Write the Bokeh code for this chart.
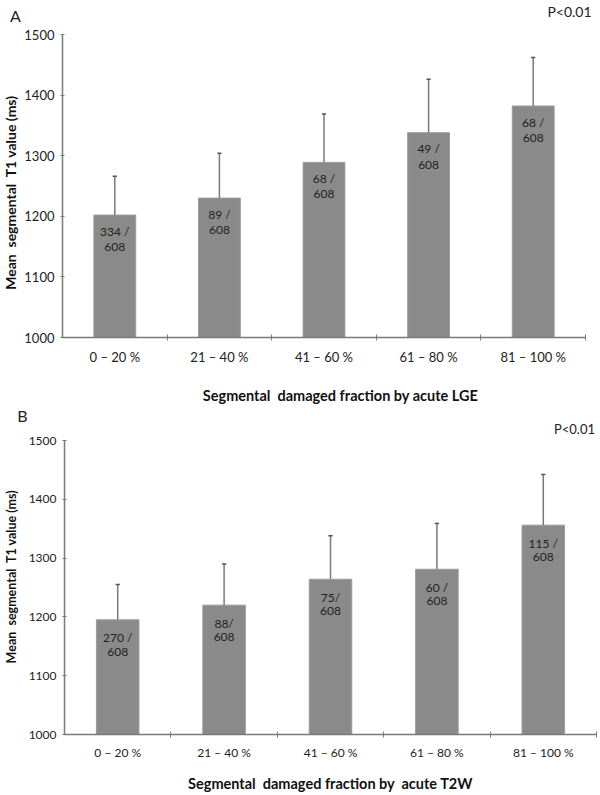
import math
from bokeh.plotting import figure
from bokeh.models import Label, FixedTicker, Range1d
from bokeh.layouts import column
from bokeh.embed import file_html
from bokeh.resources import INLINE

# ---- data ----
categories = ["0 – 20 %", "21 – 40 %", "41 – 60 %", "61 – 80 %", "81 – 100 %"]

mean_A = [1202, 1230, 1289, 1338, 1382]
sd_A = [64, 74, 80, 88, 80]
count_A = ["334 /", "89 /", "68 /", "49 /", "68 /"]
total_A = ["608", "608", "608", "608", "608"]

mean_B = [1195, 1220, 1264, 1281, 1356]
sd_B = [60, 70, 74, 78, 86]
count_B = ["270 /", "88/", "75/", "60 /", "115 /"]
total_B = ["608", "608", "608", "608", "608"]

y_ticks = [1000, 1100, 1200, 1300, 1400, 1500]

FONT = "Lato"
TITLE_FONT = "Lato"
BAR = "#8a8a8a"
EDGE = "#9c9c9c"
LINE = "#7a7a7a"
TXT = "#222222"
NB = "\u00a0"


def panel(letter, means, sds, counts, totals, xtitle, width, height,
          frame, tick_fs, lab_fs, ytitle_fs, xtitle_fs, letter_pos, p_pos,
          p_fs, ytitle_pos, xtitle_pos, xstand, lab_off):
    # frame = (left, right, top, bottom): pixel box of the value axes
    L, R, T, B = frame
    sx = 5 / (R - L)          # data units per pixel (x)
    sy = 500 / (B - T)        # data units per pixel (y)
    p = figure(width=width, height=height, output_backend="svg",
               toolbar_location=None,
               x_range=Range1d(-L * sx, 5 + (width - R) * sx),
               y_range=Range1d(1000 - (height - B) * sy, 1500 + T * sy),
               min_border=0)
    p.outline_line_color = None
    p.grid.visible = False
    p.background_fill_color = "white"
    p.border_fill_color = "white"

    xs = [i + 0.5 for i in range(len(categories))]
    p.vbar(x=xs, top=means, bottom=1000, width=0.4, fill_color=BAR,
           line_color=EDGE, line_width=1)
    tops = [m + s for m, s in zip(means, sds)]
    p.segment(x0=xs, y0=means, x1=xs, y1=tops, line_color=LINE, line_width=1.5)
    p.segment(x0=[x - 0.02 for x in xs], y0=tops, x1=[x + 0.02 for x in xs],
              y1=tops, line_color="#555555", line_width=1.5)

    p.text(x=xs, y=means, text=counts, y_offset=lab_off[0], text_align="center",
           text_baseline="middle", text_font={"value": FONT},
           text_font_size=f"{lab_fs}px", text_color=TXT)
    p.text(x=xs, y=means, text=totals, y_offset=lab_off[1], text_align="center",
           text_baseline="middle", text_font={"value": FONT},
           text_font_size=f"{lab_fs}px", text_color=TXT)

    # axes, placed at fixed data locations inside the canvas
    xa = p.xaxis[0]
    xa.fixed_location = 1000
    xa.bounds = (0, 5)
    xa.ticker = FixedTicker(ticks=xs, minor_ticks=[1, 2, 3, 4, 5])
    xa.major_label_overrides = {x: c for x, c in zip(xs, categories)}
    xa.major_tick_line_color = None
    xa.major_tick_in = 0
    xa.major_tick_out = 0
    xa.minor_tick_in = 3
    xa.minor_tick_out = 3
    xa.minor_tick_line_color = LINE
    xa.axis_line_color = LINE
    xa.axis_line_width = 1.5
    xa.major_label_standoff = xstand
    xa.major_label_text_font = FONT
    xa.major_label_text_font_size = f"{tick_fs}px"
    xa.major_label_text_color = TXT

    ya = p.yaxis[0]
    ya.fixed_location = 0
    ya.bounds = (1000, 1500)
    ya.ticker = FixedTicker(ticks=y_ticks, minor_ticks=[])
    ya.major_tick_in = 2
    ya.major_tick_out = 2
    ya.major_tick_line_color = LINE
    ya.axis_line_color = LINE
    ya.axis_line_width = 1.5
    ya.major_label_standoff = 6
    ya.major_label_text_font = FONT
    ya.major_label_text_font_size = f"{tick_fs}px"
    ya.major_label_text_color = TXT

    def dx(px):
        return (px - L) * sx

    def dy(py):
        return 1000 + (B - py) * sy

    p.add_layout(Label(x=dx(letter_pos[0]), y=dy(letter_pos[1]), text=letter,
                       text_font=FONT, text_font_size="16px", text_color=TXT,
                       text_align="center", text_baseline="middle"))
    p.add_layout(Label(x=dx(p_pos[0]), y=dy(p_pos[1]), text="P<0.01",
                       text_font=FONT, text_font_size=f"{p_fs}px",
                       text_color=TXT, text_align="center",
                       text_baseline="middle"))
    p.add_layout(Label(x=dx(ytitle_pos[0]), y=dy(ytitle_pos[1]),
                       text=f"Mean{NB} segmental{NB} T1 value (ms)",
                       angle=math.pi / 2,
                       text_font=TITLE_FONT, text_font_style="bold",
                       text_font_size=f"{ytitle_fs}px", text_color="#111111",
                       text_align="center", text_baseline="middle"))
    p.add_layout(Label(x=dx(xtitle_pos[0]), y=dy(xtitle_pos[1]), text=xtitle,
                       text_font=TITLE_FONT, text_font_style="bold",
                       text_font_size=f"{xtitle_fs}px", text_color="#111111",
                       text_align="center", text_baseline="middle"))
    return p


# Figure A: page y 0..406
pA = panel("A", mean_A, sd_A, count_A, total_A,
           f"Segmental{NB} damaged fraction by acute LGE",
           width=600, height=406, frame=(62, 585, 34, 337),
           tick_fs=13, lab_fs=12, ytitle_fs=14, xtitle_fs=14.5,
           letter_pos=(15, 15), p_pos=(569, 11), p_fs=14,
           ytitle_pos=(10, 192), xtitle_pos=(340, 395), xstand=8,
           lab_off=(16, 32))

# Figure B: page y 406..794
pB = panel("B", mean_B, sd_B, count_B, total_B,
           f"Segmental{NB} damaged fraction by{NB} acute T2W",
           width=600, height=388, frame=(64, 596, 34, 328),
           tick_fs=12, lab_fs=12, ytitle_fs=12.5, xtitle_fs=14.5,
           letter_pos=(22, 9), p_pos=(574, 22), p_fs=13,
           ytitle_pos=(11, 170), xtitle_pos=(330, 377), xstand=7,
           lab_off=(18, 32))

layout = column(pA, pB, spacing=0)
open("out.html", "w").write(file_html(layout, INLINE))
